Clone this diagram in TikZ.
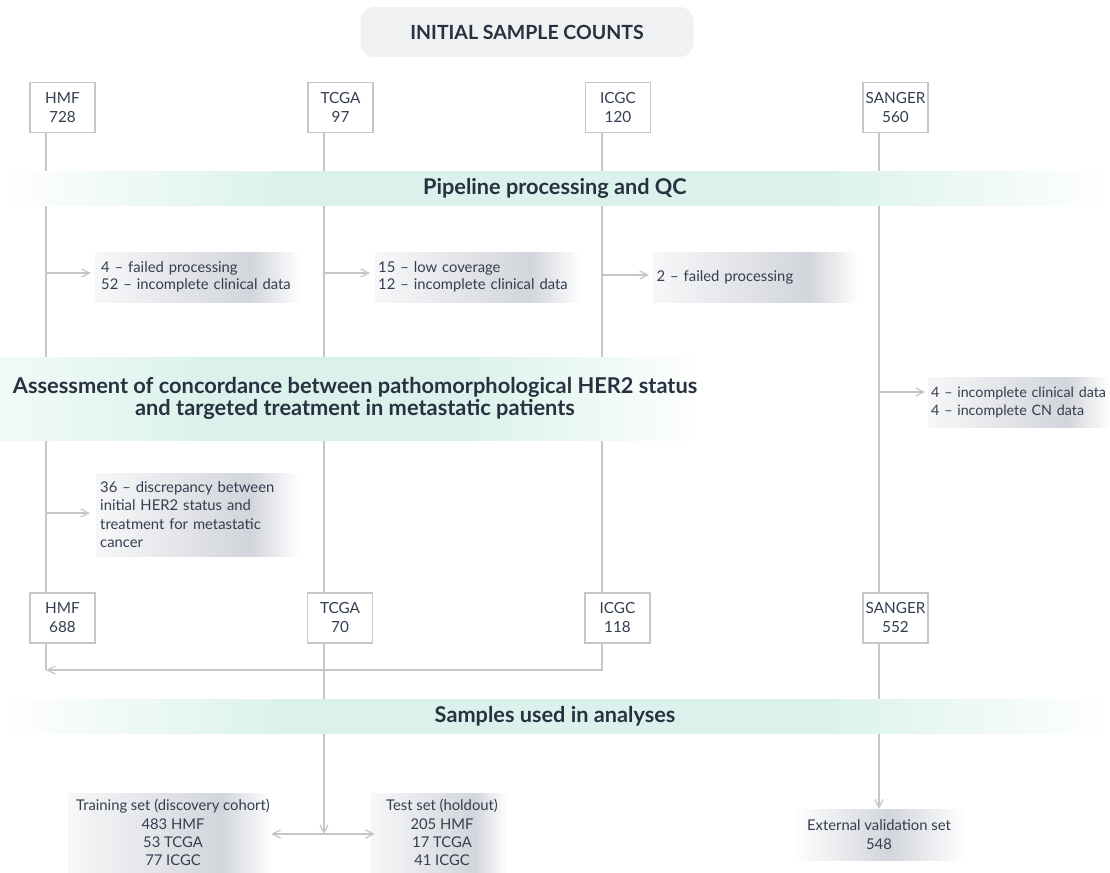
\documentclass[tikz,border=0pt]{standalone}
\usepackage{fontspec}
\setmainfont{Lato}
\usetikzlibrary{arrows.meta,calc}
\definecolor{bandc}{RGB}{218,242,235}
\colorlet{bandl}{bandc!35!white}
\definecolor{noteg}{RGB}{210,213,219}
\colorlet{notel}{noteg!18!white}
\definecolor{txt}{RGB}{52,62,80}
\definecolor{hd}{RGB}{40,49,64}
\definecolor{lnc}{RGB}{198,198,200}
\definecolor{titlef}{RGB}{240,241,243}
\pgfdeclarehorizontalshading{bandfull}{100bp}{color(0bp)=(white); color(25bp)=(white); color(38bp)=(bandc); color(62bp)=(bandc); color(75bp)=(white); color(100bp)=(white)}
\pgfdeclarehorizontalshading{bandleft}{100bp}{color(0bp)=(bandl); color(25bp)=(bandl); color(40bp)=(bandc); color(58bp)=(bandc); color(75bp)=(white); color(100bp)=(white)}
\pgfdeclarehorizontalshading{noteshade}{100bp}{color(0bp)=(notel); color(25bp)=(notel); color(63bp)=(noteg); color(75bp)=(white); color(100bp)=(white)}
\pgfdeclarehorizontalshading{notemid}{100bp}{color(0bp)=(white); color(25bp)=(white); color(53bp)=(noteg); color(75bp)=(white); color(100bp)=(white)}
\begin{document}
\begin{tikzpicture}[x=1pt,y=-1pt,
  ln/.style={draw=lnc,line width=1.2pt},
  arr/.style={ln,-{Straight Barb[length=8pt,width=8pt]}},
  dblarr/.style={ln,{Straight Barb[length=8pt,width=8pt]}-{Straight Barb[length=8pt,width=8pt]}},
  srcbox/.style={draw=lnc,line width=1.2pt,fill=white,minimum width=65pt,minimum height=50pt,inner sep=0pt,align=center,text=txt,font=\fontsize{15.3}{19}\selectfont},
  bandbox/.style={shade,shading=bandfull,inner sep=0pt,minimum height=34pt,text=hd,font=\bfseries\fontsize{21.7}{22}\selectfont},
  notebox/.style={shade,shading=noteshade,inner ysep=0pt,align=left,text=txt,font=\fontsize{14.8}{17.5}\selectfont,anchor=west},
  setbox/.style={shade,shading=noteshade,inner sep=0pt,align=center,text=txt,font=\fontsize{14.8}{18.3}\selectfont},
  titlebox/.style={fill=titlef,rounded corners=14pt,minimum width=333pt,minimum height=50pt,text=hd,font=\bfseries\fontsize{19.5}{20}\selectfont}
]
\useasboundingbox (0,0) rectangle (1110,872);
\fill[white] (0,0) rectangle (1110,872);

% column and level coordinates
\coordinate (c1) at (46,0);
\coordinate (c2) at (324,0);
\coordinate (c3) at (602,0);
\coordinate (c4) at (879,0);
\coordinate (jy) at (0,670);
\coordinate (dy) at (0,834);

\node[titlebox] (title) at (527,32) {INITIAL SAMPLE COUNTS};

% source boxes
\node[srcbox] (hmf1) at (62.5,107.5) {HMF\\728};
\node[srcbox] (tcga1) at (340.5,107.5) {TCGA\\97};
\node[srcbox] (icgc1) at (618,107.5) {ICGC\\120};
\node[srcbox] (sang1) at (895.5,107.5) {SANGER\\560};
\node[srcbox] (hmf2) at (62.5,618) {HMF\\688};
\node[srcbox] (tcga2) at (340,618) {TCGA\\70};
\node[srcbox] (icgc2) at (617.5,618) {ICGC\\118};
\node[srcbox] (sang2) at (895.5,618) {SANGER\\552};

% final sets
\node[setbox,minimum width=203pt,minimum height=79pt] (train) at (169.5,832.5) {\hspace*{7pt}Training set (discovery cohort)\\\hspace*{7pt}483 HMF\\\hspace*{7pt}53 TCGA\\\hspace*{7pt}77 ICGC};
\node[setbox,minimum width=136pt,minimum height=79pt] (test) at (439,832.5) {\hspace*{6pt}Test set (holdout)\\\hspace*{6pt}205 HMF\\\hspace*{6pt}17 TCGA\\\hspace*{6pt}41 ICGC};
\node[setbox,shading=notemid,minimum width=172pt,minimum height=51pt] (ext) at (879,834.5) {External validation set\\548};

% vertical lines
\draw[ln] (hmf1.south -| c1) -- (hmf2.north -| c1);
\draw[ln] (tcga1.south -| c2) -- (tcga2.north -| c2);
\draw[ln] (icgc1.south -| c3) -- (icgc2.north -| c3);
\draw[ln] (sang1.south -| c4) -- (sang2.north -| c4);
\draw[ln] (hmf2.south -| c1) -- (c1 |- jy);
\draw[arr] (icgc2.south -| c3) -- (c3 |- jy) -- (c1 |- jy);
\draw[arr] (tcga2.south -| c2) -- (c2 |- dy);
\draw[arr] (sang2.south -| c4) -- (ext.north -| c4);
\draw[dblarr] (train.east |- dy) -- ([xshift=4pt]test.west |- dy);

% bands (drawn over lines)
\node[bandbox,minimum width=1110pt] (pipe) at (555,188) {Pipeline processing and QC};
\node[bandbox,shading=bandleft,minimum width=704pt,minimum height=83pt,align=center,font=\bfseries\fontsize{21.8}{22}\selectfont] (assess) at (352,398.5) {\hspace*{6pt}Assessment of concordance between pathomorphological HER2 status\\\hspace*{6pt}and targeted treatment in metastatic patients};
\node[bandbox,minimum width=1110pt] (samples) at (555,716) {Samples used in analyses};

% exclusion notes
\node[notebox,minimum height=50pt,inner xsep=6pt,text width=193pt] (n1) at (95,277) {4 – failed processing\\52 – incomplete clinical data};
\node[notebox,minimum height=50pt,inner xsep=3pt,text width=199pt] (n2) at (375,277) {15 – low coverage\\12 – incomplete clinical data};
\node[notebox,minimum height=50pt,inner xsep=3.5pt,text width=198pt] (n3) at (653,277) {2 – failed processing};
\node[notebox,minimum height=50pt,inner xsep=3pt,text width=176pt,font=\fontsize{14.3}{18}\selectfont] (n4) at (928,402) {4 – incomplete clinical~data\\4 – incomplete CN data};
\node[notebox,minimum height=83pt,inner xsep=4pt,text width=195pt,font=\fontsize{14.8}{18.3}\selectfont] (n5) at (96,514.5) {36 – discrepancy between\\initial HER2 status and\\treatment for metastatic\\cancer};

\coordinate (a1) at ([yshift=4pt]n1.west);
\coordinate (a2) at ([yshift=4pt]n2.west);
\coordinate (a3) at ([yshift=2pt]n3.west);
\coordinate (a4) at ([yshift=10pt]n4.west);
\coordinate (a5) at ([yshift=1.5pt]n5.west);
\draw[arr,shorten >=4pt] (a1 -| c1) -- (a1);
\draw[arr,shorten >=5pt] (a2 -| c2) -- (a2);
\draw[arr,shorten >=4pt] (a3 -| c3) -- (a3);
\draw[arr,shorten >=3pt] (a4 -| c4) -- (a4);
\draw[arr,shorten >=6pt] (a5 -| c1) -- (a5);
\end{tikzpicture}
\end{document}
